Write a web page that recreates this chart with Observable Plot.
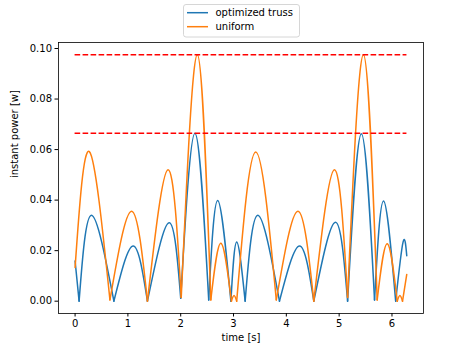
<!DOCTYPE html>
<html>
<head>
<meta charset="utf-8">
<script src="https://cdn.jsdelivr.net/npm/d3@7"></script>
<script src="https://cdn.jsdelivr.net/npm/@observablehq/plot@0.6"></script>
<style>
  html, body { margin: 0; padding: 0; background: white; }
  #wrap { position: relative; width: 470px; height: 353px; }
  #legend { position: absolute; left: 0; top: 0; pointer-events: none; }
</style>
</head>
<body>
<div id="wrap"></div>
<script>
// time samples (peaks / minima) and instant power values
const blueT = [0, 0.076, 0.31, 0.735, 1.10, 1.37, 1.78, 2.00, 2.27, 2.53, 2.70, 2.95, 3.06, 3.22, 3.46, 3.87, 4.25, 4.52, 4.93, 5.16, 5.42, 5.67, 5.84, 6.07, 6.21, 6.28];
const blueV = [0.0159, 0, 0.034, 0, 0.0218, 0, 0.031, 0.0012, 0.0665, 0.0005, 0.0398, 0, 0.0234, 0, 0.034, 0, 0.0218, 0, 0.0312, 0, 0.0663, 0.0005, 0.0396, 0, 0.0234, 0.018];

const orangeT = [0, 0.27, 0.66, 1.07, 1.37, 1.76, 2.01, 2.315, 2.57, 2.76, 2.96, 3.01, 3.06, 3.42, 3.81, 4.22, 4.52, 4.91, 5.16, 5.46, 5.72, 5.91, 6.10, 6.15, 6.20, 6.28];
const orangeV = [0.0133, 0.0592, 0.0005, 0.0356, 0, 0.052, 0.0015, 0.0975, 0.0005, 0.0229, 0, 0.0022, 0, 0.059, 0.0005, 0.0356, 0, 0.052, 0.0015, 0.0975, 0.0005, 0.0227, 0, 0.0022, 0, 0.0106];

const refLevels = [0.0975, 0.0665];
const seriesNames = ["optimized truss", "uniform"];
const tickX = [0, 1, 2, 3, 4, 5, 6];
const tickY = [0, 0.02, 0.04, 0.06, 0.08, 0.10];
const tEnd = 2 * Math.PI;

// split each series into arcs between local minima (cusps stay sharp)
function arcs(T, V) {
  const rows = [];
  let arc = 0;
  for (let i = 0; i < T.length; i++) {
    const isMin = i > 0 && i < T.length - 1 && V[i] <= V[i - 1] && V[i] <= V[i + 1];
    rows.push({t: T[i], v: V[i], arc});
    if (isMin) { arc++; rows.push({t: T[i], v: V[i], arc}); }
  }
  return rows;
}
const blueRows = arcs(blueT, blueV);
const orangeRows = arcs(orangeT, orangeV);

const chart = Plot.plot({
  width: 470, height: 353,
  marginLeft: 58, marginRight: 47, marginTop: 42, marginBottom: 40,
  style: {fontFamily: "DejaVu Sans", fontSize: "10px", color: "black", background: "white"},
  x: {domain: [-0.314, 6.597]},
  y: {domain: [-0.004875, 0.102375]},
  marks: [
    Plot.axisX({ticks: tickX, tickSize: 3.5, tickPadding: 3, label: null, tickFormat: d => String(d)}),
    Plot.axisY({ticks: tickY, tickSize: 3.5, tickPadding: 3, label: null, tickFormat: d3.format(".2f")}),
    Plot.line(blueRows, {x: "t", y: "v", z: "arc", curve: "natural", stroke: "#1f77b4", strokeWidth: 1.5, strokeLinejoin: "round"}),
    Plot.line(orangeRows, {x: "t", y: "v", z: "arc", curve: "natural", stroke: "#ff7f0e", strokeWidth: 1.5, strokeLinejoin: "round"}),
    Plot.ruleY(refLevels, {y: d => d, x1: () => blueT[0], x2: () => tEnd, stroke: "red", strokeWidth: 1.5, strokeDasharray: "5.6,2.4"}),
    Plot.frame({stroke: "black", strokeWidth: 0.8}),
    Plot.text(["time [s]"], {text: d => d, frameAnchor: "bottom", dy: 27}),
    Plot.text(["instant power [w]"], {text: d => d, frameAnchor: "left", dx: -44, rotate: -90})
  ]
});
document.getElementById("wrap").appendChild(chart);

// legend above the axes
const ns = "http://www.w3.org/2000/svg";
const lg = document.createElementNS(ns, "svg");
lg.setAttribute("id", "legend");
lg.setAttribute("width", 470);
lg.setAttribute("height", 60);
const box = document.createElementNS(ns, "rect");
Object.entries({x: 183.5, y: 4.5, width: 116, height: 32.5, rx: 2.5, fill: "white", stroke: "#cccccc", "stroke-width": 0.8}).forEach(([k, v]) => box.setAttribute(k, v));
lg.appendChild(box);
const cols = ["#1f77b4", "#ff7f0e"];
seriesNames.forEach((name, i) => {
  const y = 12.7 + i * 14;
  const ln = document.createElementNS(ns, "line");
  Object.entries({x1: 187, x2: 208, y1: y, y2: y, stroke: cols[i], "stroke-width": 1.5}).forEach(([k, v]) => ln.setAttribute(k, v));
  lg.appendChild(ln);
  const tx = document.createElementNS(ns, "text");
  Object.entries({x: 215.5, y: y, "dominant-baseline": "central", "font-family": "DejaVu Sans", "font-size": "10px", fill: "black"}).forEach(([k, v]) => tx.setAttribute(k, v));
  tx.textContent = name;
  lg.appendChild(tx);
});
document.getElementById("wrap").appendChild(lg);
</script>
</body>
</html>
